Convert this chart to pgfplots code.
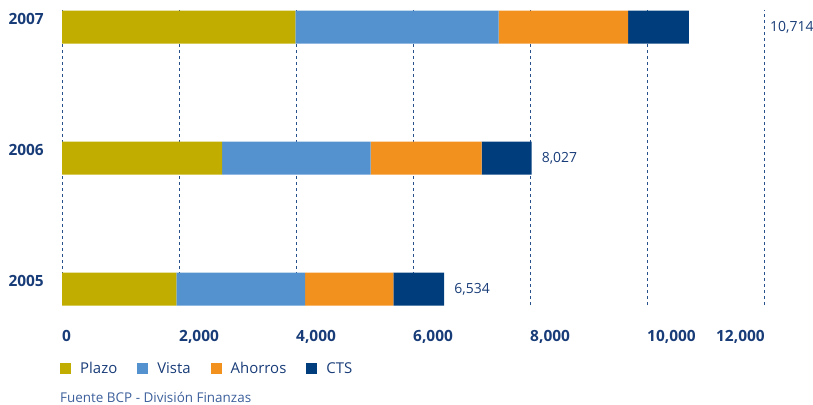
\documentclass[border=0pt]{standalone}
\usepackage{fontspec}
\setmainfont{Open Sans}
\usepackage{pgfplots}
\pgfplotsset{compat=1.18}
\definecolor{plazo}{RGB}{192,173,0}
\definecolor{vista}{RGB}{84,146,207}
\definecolor{ahorros}{RGB}{243,145,30}
\definecolor{cts}{RGB}{0,61,125}
\definecolor{txt}{RGB}{24,60,120}
\definecolor{src}{RGB}{60,95,155}
\definecolor{gridc}{RGB}{40,80,140}
\begin{document}
\begin{tikzpicture}
\begin{axis}[
  at={(0,0)}, anchor=south west,
  scale only axis, width=702bp, height=295bp,
  xbar stacked, bar width=0.252,
  xmin=0, xmax=12000, ymin=-0.122, ymax=2.13,
  clip=false,
  scaled x ticks=false,
  ytick={0,1,2}, yticklabels={2005,2006,2007},
  yticklabel style={font=\fontsize{15.5}{18}\selectfont\bfseries, text=txt, anchor=east, inner sep=0pt, xshift=-18bp, yshift=8bp},
  xtick={0,2000,4000,6000,8000,10000,12000},
  xticklabels={0,{2,000},{4,000},{6,000},{8,000},{10,000},{\llap{12,000}}},
  xticklabel style={font=\fontsize{15.5}{18}\selectfont\bfseries, text=txt, anchor=north west, inner sep=0pt, yshift=-25bp},
  axis line style={draw=none}, major tick length=0pt,
  xmajorgrids, grid style={gridc, line width=0.8bp, dash pattern=on 3bp off 3bp},
  legend columns=4,
  legend style={at={(0,0)}, anchor=north west, xshift=-2bp, yshift=-57bp, draw=none, fill=none, inner sep=0pt,
    font=\fontsize{15}{18}\selectfont, text=txt, nodes={inner sep=0pt},
    /tikz/every odd column/.append style={column sep=9bp},
    /tikz/every even column/.append style={column sep=20bp}},
  legend image code/.code={\fill[#1] (0bp,-5.5bp) rectangle (11bp,5.5bp);},
]
\addplot[fill=plazo, draw=none] coordinates {(1954,0) (2736,1) (3991,2)};
\addlegendentry{Plazo}
\addplot[fill=vista, draw=none] coordinates {(2200,0) (2539,1) (3474,2)};
\addlegendentry{Vista}
\addplot[fill=ahorros, draw=none] coordinates {(1510,0) (1900,1) (2214,2)};
\addlegendentry{Ahorros}
\addplot[fill=cts, draw=none] coordinates {(870,0) (852,1) (1035,2)};
\addlegendentry{CTS}
\node[anchor=west, inner sep=0pt, xshift=10bp, font=\fontsize{14}{16}\selectfont, text=txt] at (axis cs:6534,0) {6,534};
\node[anchor=west, inner sep=0pt, xshift=10bp, font=\fontsize{14}{16}\selectfont, text=txt] at (axis cs:8027,1) {8,027};
\node[anchor=west, inner sep=0pt, xshift=6bp, font=\fontsize{14}{16}\selectfont, text=txt] at (axis cs:12000,2) {10,714};
\end{axis}
\node[anchor=base west, font=\fontsize{13.5}{16}\selectfont, text=src, inner sep=0pt] at (-2bp,-97bp) {Fuente BCP - División Finanzas};
\pgfresetboundingbox
\path (-62bp,-100bp) rectangle (751bp,305bp);
\end{tikzpicture}
\end{document}
